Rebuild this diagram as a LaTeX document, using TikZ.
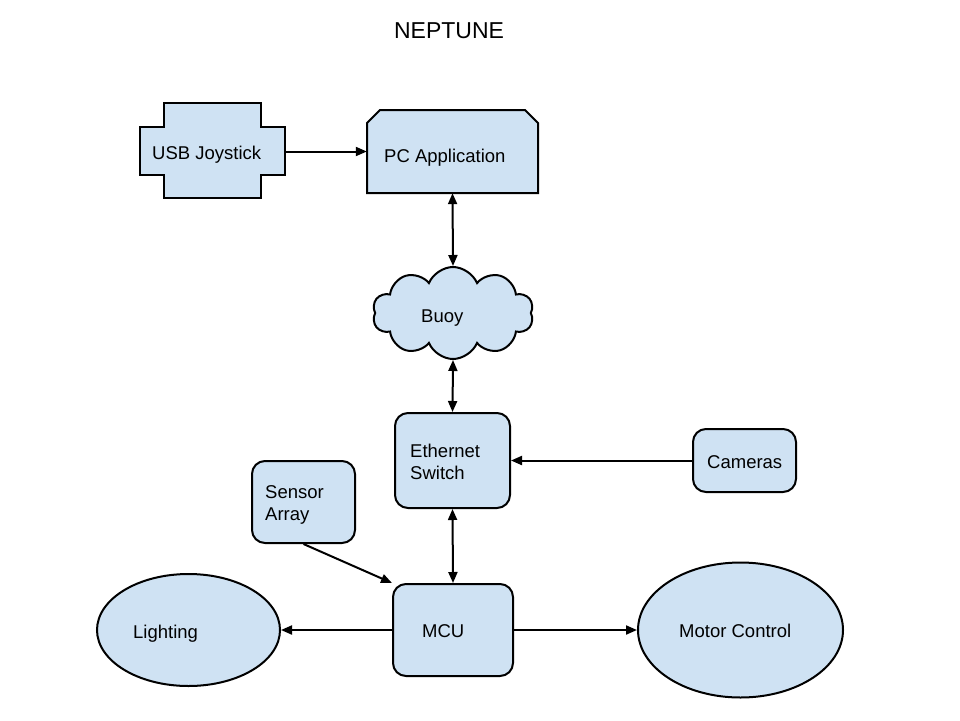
\documentclass[tikz,border=0pt]{standalone}
\usepackage{fontspec}
\setmainfont{Liberation Sans}
\usetikzlibrary{arrows.meta,shapes.geometric,shapes.misc,shapes.symbols}
\definecolor{boxfill}{HTML}{CFE2F3}
\begin{document}
\begin{tikzpicture}[x=1pt,y=-1pt,
  every node/.style={inner sep=0pt},
  shapebox/.style={draw=black, fill=boxfill, line width=2pt},
  rbox/.style={shapebox, rectangle, rounded corners=13pt},
  lbl/.style={anchor=base west, font=\fontsize{18.5}{22}\selectfont},
  tip/.tip={Triangle[length=11pt,width=9pt]},
  conn/.style={line width=2pt, -tip},
  dconn/.style={line width=2pt, tip-tip},
]
\useasboundingbox (0,0) rectangle (960,720);
\fill[white] (0,0) rectangle (960,720);

\node[anchor=base, font=\fontsize{23}{27}\selectfont] (title) at (449,38) {NEPTUNE};

% USB Joystick (cross shape)
\draw[shapebox] (164,103) -- (261,103) -- (261,127) -- (285,127) -- (285,175) -- (261,175) -- (261,198) -- (164,198) -- (164,175) -- (140,175) -- (140,127) -- (164,127) -- cycle;
\node[minimum width=145pt, minimum height=95pt] (joy) at (212.5,151.5) {};

% PC Application (top corners chamfered)
\draw[shapebox] (367,123) -- (380,110) -- (525,110) -- (538,123) -- (538,193) -- (367,193) -- cycle;
\node[minimum width=171pt, minimum height=83pt] (pc) at (452.5,151.5) {};

\node[shapebox, cloud, cloud puffs=10, cloud puff arc=135, cloud ignores aspect,
  minimum width=161pt, minimum height=92pt] (buoy) at (453,313) {};

\node[rbox, minimum width=115pt, minimum height=95pt] (eth) at (452.5,460.5) {};
\node[rbox, minimum width=103pt, minimum height=63pt] (cam) at (744.5,460.5) {};
\node[rbox, minimum width=103pt, minimum height=82pt] (sensor) at (303.5,502) {};
\node[rbox, minimum width=120pt, minimum height=92pt] (mcu) at (453,630) {};
\node[shapebox, ellipse, minimum width=183pt, minimum height=112pt] (light) at (188.5,630) {};
\node[shapebox, ellipse, minimum width=205pt, minimum height=135pt] (motor) at (740.5,630) {};

% labels
\node[lbl] (joyT) at (152,159) {USB Joystick};
\node[lbl] (pcT) at (384,162) {PC Application};
\node[lbl] (buoyT) at (421,322) {Buoy};
\node[lbl, align=left] (ethT) at (410,479) {Ethernet\\Switch};
\node[lbl] (camT) at (707,468) {Cameras};
\node[lbl, align=left] (sensorT) at (265,520) {Sensor\\Array};
\node[lbl] (mcuT) at (422,637) {MCU};
\node[lbl] (lightT) at (133,638) {Lighting};
\node[lbl] (motorT) at (679,637) {Motor Control};

% connectors
\draw[conn] (joy.east) -- (pc.west);
\draw[dconn] (pc.south) -- (buoy.north);
\draw[dconn] (buoy.south) -- (eth.north);
\draw[conn] (cam.west) -- (eth.east);
\draw[dconn] (eth.south) -- (mcu.north);
\draw[conn] (sensor.south) -- (mcu.north west);
\draw[conn] (mcu.west) -- (light.east);
\draw[conn] (mcu.east) -- (motor.west);
\end{tikzpicture}
\end{document}
